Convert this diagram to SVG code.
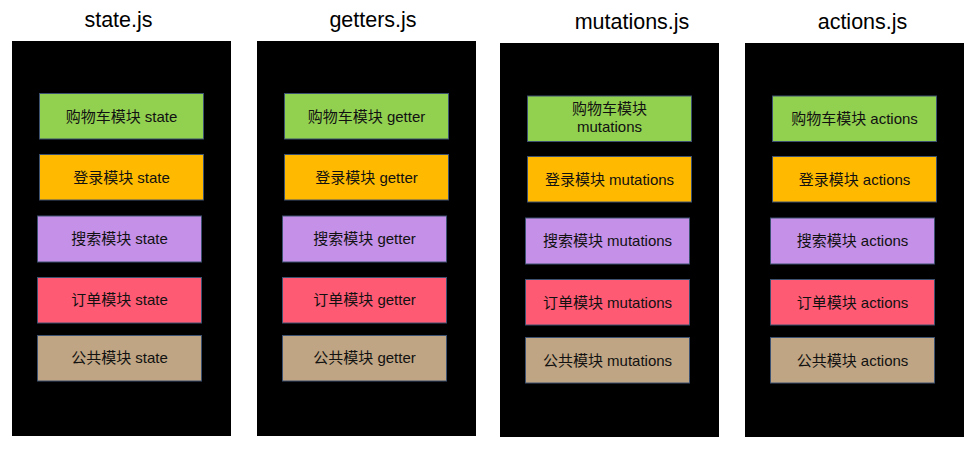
<svg xmlns="http://www.w3.org/2000/svg" width="973" height="449" viewBox="0 0 973 449">
<style>
.bg{fill:#000}
.title{font-family:"Liberation Sans","Noto Sans CJK SC",sans-serif;font-size:21.5px;fill:#000;text-anchor:middle}
.box{stroke:#3c5070;stroke-width:1}
.lbl{font-family:"Liberation Sans","Noto Sans CJK SC",sans-serif;font-size:15px;fill:#111;text-anchor:middle}
.g{fill:#92D050}.o{fill:#FFBA00}.p{fill:#C490E8}.r{fill:#FF5A74}.t{fill:#BFA583}
</style>
<rect width="973" height="449" fill="#fff"/>

<g id="col-state">
<text class="title" x="118.5" y="27">state.js</text>
<rect class="bg" x="12" y="41" width="219" height="395"/>
<g id="state-cart"><rect class="box g" x="39.5" y="93.5" width="164" height="45.5"/><text class="lbl" x="121.5" y="121.5">购物车模块 state</text></g>
<g id="state-login"><rect class="box o" x="39.5" y="154.5" width="164" height="45.5"/><text class="lbl" x="121.5" y="182.5">登录模块 state</text></g>
<g id="state-search"><rect class="box p" x="37.5" y="216" width="164" height="46"/><text class="lbl" x="119.5" y="244">搜索模块 state</text></g>
<g id="state-order"><rect class="box r" x="37.5" y="277.5" width="164" height="45.5"/><text class="lbl" x="119.5" y="305">订单模块 state</text></g>
<g id="state-common"><rect class="box t" x="37.5" y="335.5" width="164" height="45.5"/><text class="lbl" x="119.5" y="363">公共模块 state</text></g>
</g>

<g id="col-getters">
<text class="title" x="373" y="27">getters.js</text>
<rect class="bg" x="257" y="41" width="219" height="395"/>
<g id="getter-cart"><rect class="box g" x="284.5" y="93.5" width="164" height="45.5"/><text class="lbl" x="366.5" y="121.5">购物车模块 getter</text></g>
<g id="getter-login"><rect class="box o" x="284.5" y="154.5" width="164" height="45.5"/><text class="lbl" x="366.5" y="182.5">登录模块 getter</text></g>
<g id="getter-search"><rect class="box p" x="282.5" y="216" width="164" height="46"/><text class="lbl" x="364.5" y="244">搜索模块 getter</text></g>
<g id="getter-order"><rect class="box r" x="282.5" y="277.5" width="164" height="45.5"/><text class="lbl" x="364.5" y="305">订单模块 getter</text></g>
<g id="getter-common"><rect class="box t" x="282.5" y="335.5" width="164" height="45.5"/><text class="lbl" x="364.5" y="363">公共模块 getter</text></g>
</g>

<g id="col-mutations">
<text class="title" x="632" y="29">mutations.js</text>
<rect class="bg" x="500" y="43" width="219" height="394"/>
<g id="mut-cart"><rect class="box g" x="527.5" y="96" width="164" height="45.5"/><text class="lbl" x="609.5" y="113.5">购物车模块</text><text class="lbl" x="609.5" y="132">mutations</text></g>
<g id="mut-login"><rect class="box o" x="527.5" y="156.5" width="164" height="45.5"/><text class="lbl" x="609.5" y="184.5">登录模块 mutations</text></g>
<g id="mut-search"><rect class="box p" x="525.5" y="218" width="164" height="46"/><text class="lbl" x="607.5" y="246">搜索模块 mutations</text></g>
<g id="mut-order"><rect class="box r" x="525.5" y="279.5" width="164" height="45.5"/><text class="lbl" x="607.5" y="307.5">订单模块 mutations</text></g>
<g id="mut-common"><rect class="box t" x="525.5" y="337.5" width="164" height="45.5"/><text class="lbl" x="607.5" y="365.5">公共模块 mutations</text></g>
</g>

<g id="col-actions">
<text class="title" x="862.5" y="29">actions.js</text>
<rect class="bg" x="745" y="43" width="219" height="394"/>
<g id="act-cart"><rect class="box g" x="772.5" y="96" width="164" height="45.5"/><text class="lbl" x="854.5" y="123.5">购物车模块 actions</text></g>
<g id="act-login"><rect class="box o" x="772.5" y="156.5" width="164" height="45.5"/><text class="lbl" x="854.5" y="184.5">登录模块 actions</text></g>
<g id="act-search"><rect class="box p" x="770.5" y="218" width="164" height="46"/><text class="lbl" x="852.5" y="246">搜索模块 actions</text></g>
<g id="act-order"><rect class="box r" x="770.5" y="279.5" width="164" height="45.5"/><text class="lbl" x="852.5" y="307.5">订单模块 actions</text></g>
<g id="act-common"><rect class="box t" x="770.5" y="337.5" width="164" height="45.5"/><text class="lbl" x="852.5" y="365.5">公共模块 actions</text></g>
</g>

<g id="connectors"></g>
</svg>
